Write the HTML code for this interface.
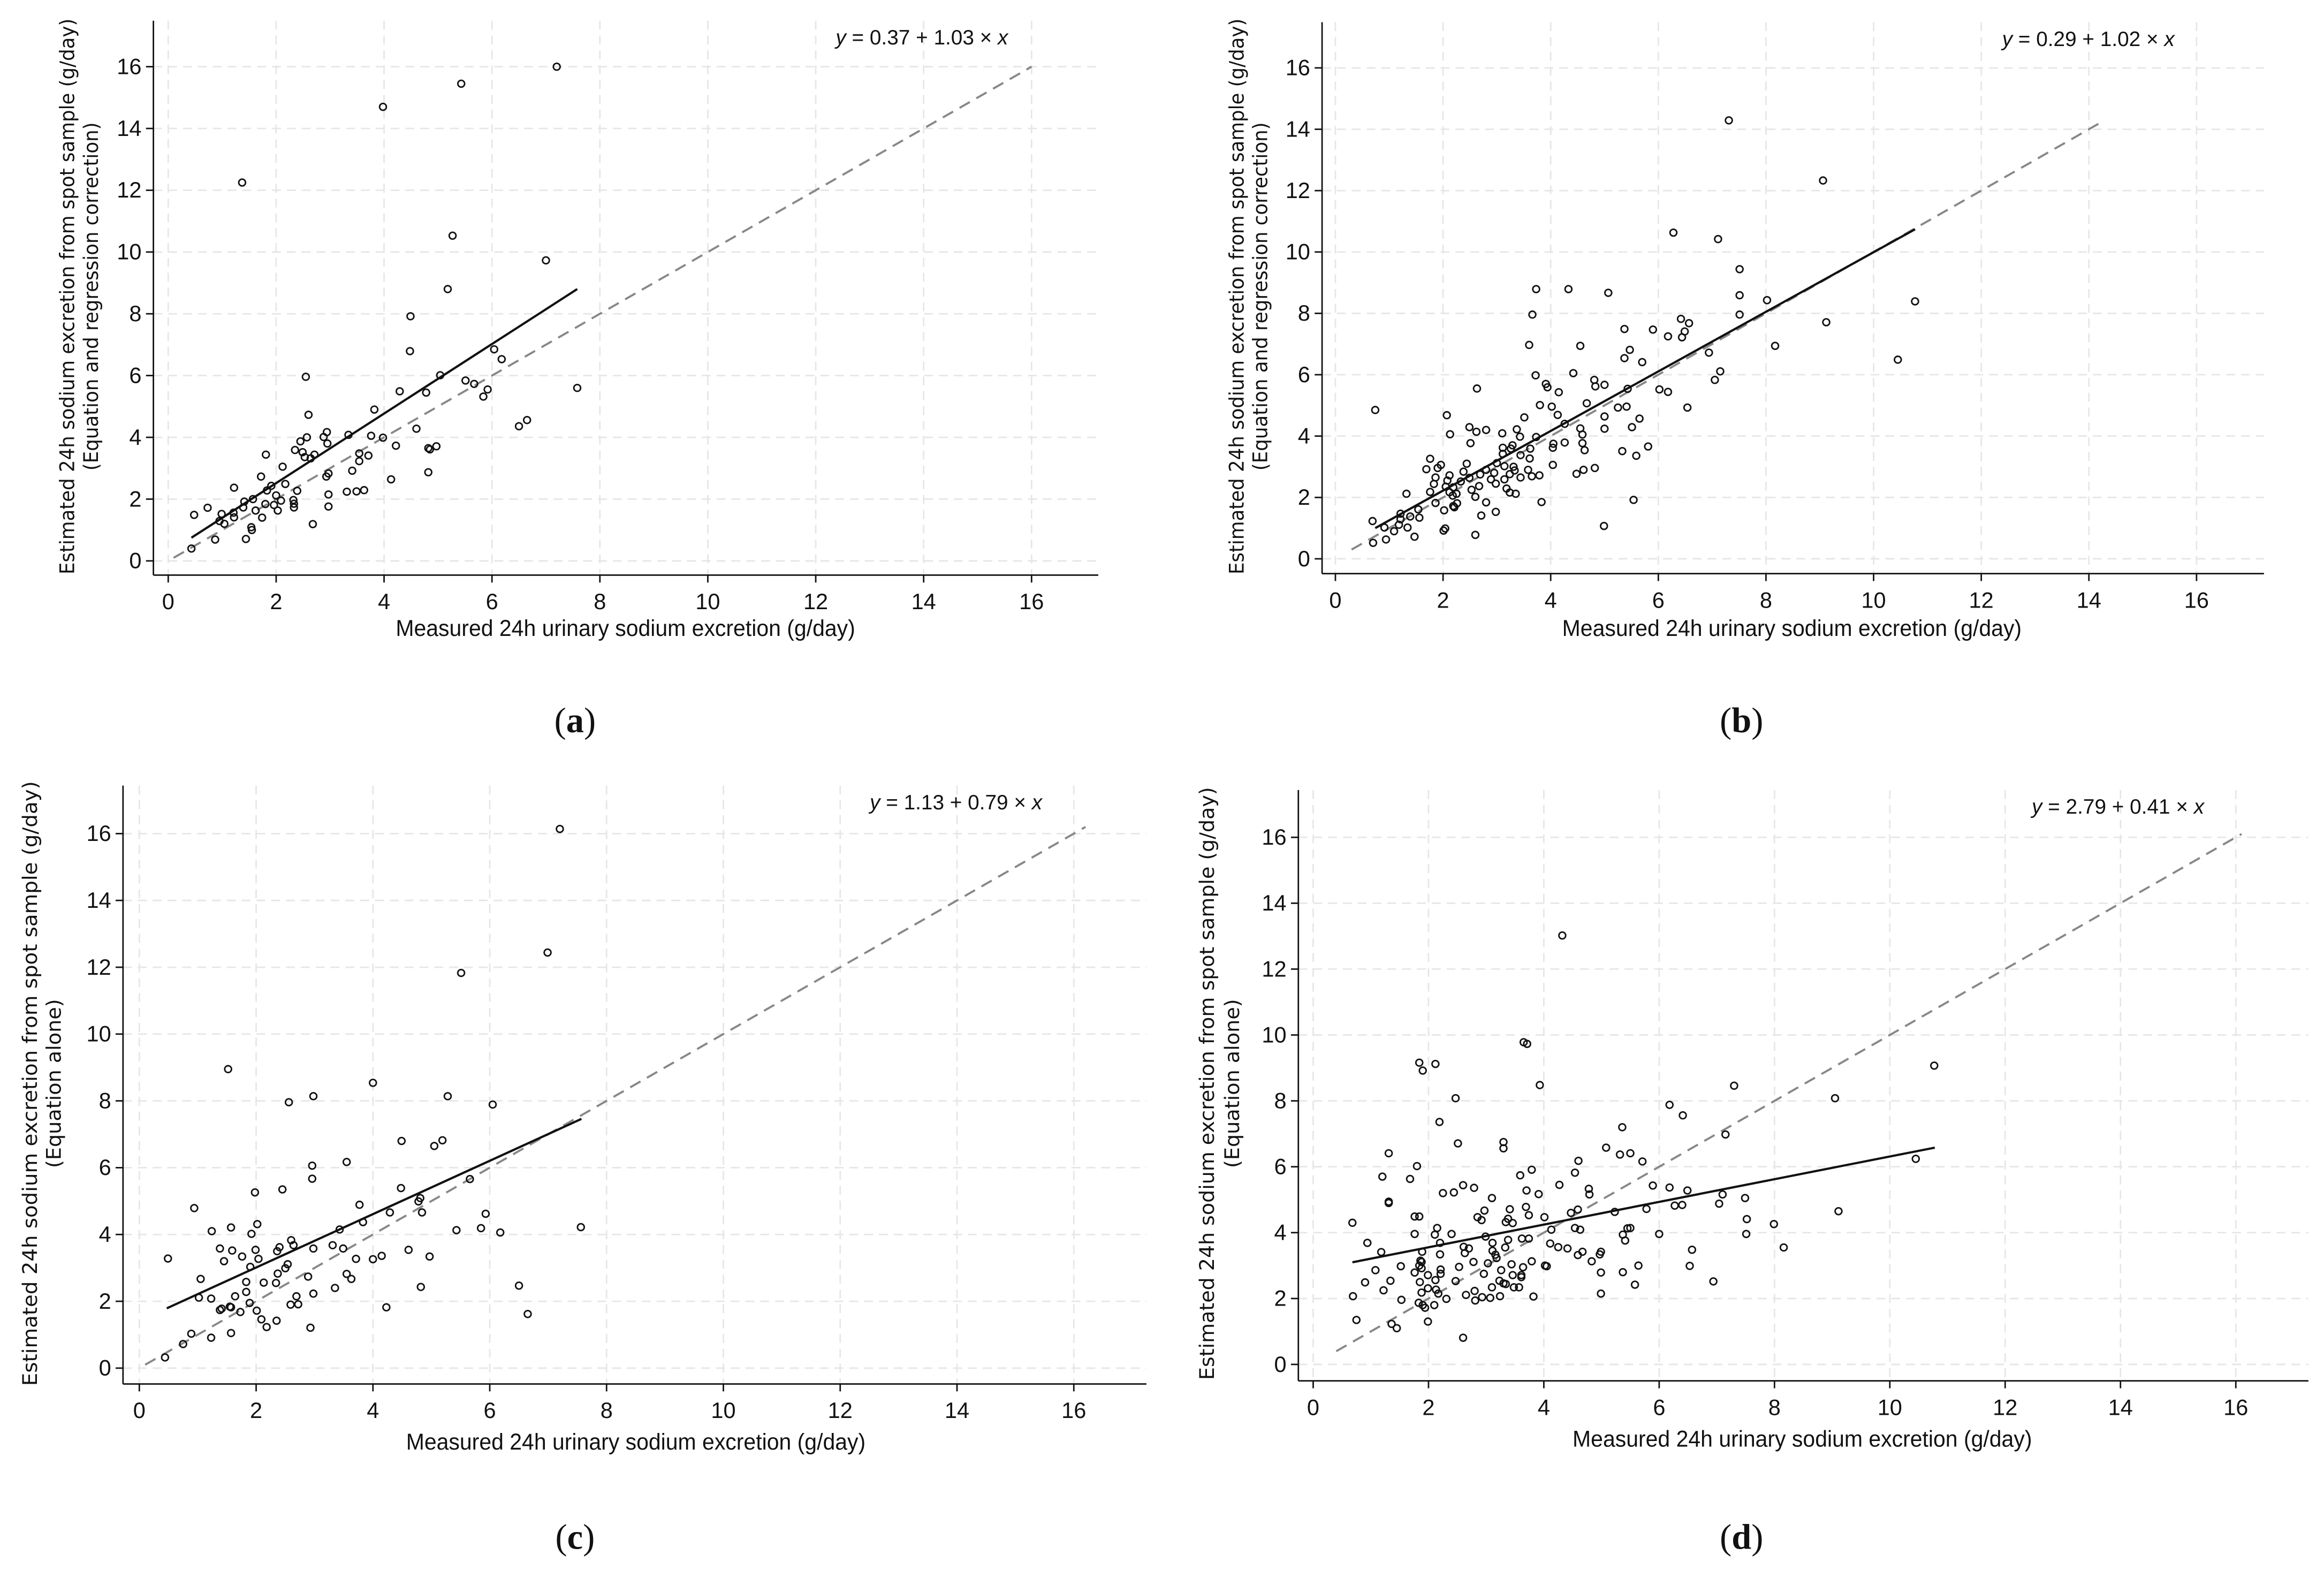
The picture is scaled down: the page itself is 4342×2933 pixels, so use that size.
<!DOCTYPE html>
<html><head><meta charset="utf-8"><style>
html,body{margin:0;padding:0;background:#fff;}
svg{display:block;}
text{font-family:"Liberation Sans Narrow","Liberation Sans",sans-serif;fill:#111;}
.yt{font-family:"DejaVu Sans","Liberation Sans",sans-serif;}
.lab{font-family:"Liberation Serif",serif;}
</style></head><body>
<svg id="chart" width="4342" height="2933" viewBox="0 0 1568 1059.2" preserveAspectRatio="none" xmlns="http://www.w3.org/2000/svg"></svg>
<script>
// ---- data ----
const aX=[7.2,5.43,3.98,1.37,5.27,7.0,5.18,4.49,4.48,6.04,6.18,2.55,5.04,5.51,5.67,7.58,4.29,5.92,4.78,5.84,2.6,3.82,6.65,6.5,4.6,2.94,3.34,2.57,2.88,3.76,3.98,2.45,2.95,4.22,4.82,4.97,4.85,2.35,2.49,1.81,2.71,2.53,2.64,3.54,3.71,3.54,2.12,3.41,2.97,2.93,1.72,4.82,4.13,1.22,2.17,1.91,1.83,2.39,3.31,3.49,3.63,2.97,2.0,1.41,1.57,2.09,2.32,1.8,2.33,1.96,1.39,0.73,2.33,2.97,1.62,2.03,1.21,0.99,0.48,1.22,1.74,0.95,1.04,2.68,1.54,1.55,0.87,1.44,0.43];
const aY=[16.0,15.45,14.7,12.25,10.53,9.73,8.8,7.92,6.79,6.85,6.53,5.96,6.01,5.84,5.73,5.6,5.49,5.55,5.45,5.32,4.73,4.9,4.56,4.36,4.28,4.17,4.08,4.0,4.01,4.05,3.99,3.87,3.8,3.73,3.65,3.71,3.61,3.59,3.52,3.44,3.44,3.36,3.32,3.48,3.41,3.23,3.05,2.92,2.83,2.73,2.73,2.87,2.64,2.37,2.49,2.43,2.28,2.27,2.24,2.25,2.29,2.15,2.12,1.92,2.0,1.95,1.97,1.84,1.85,1.81,1.73,1.72,1.73,1.76,1.63,1.63,1.56,1.52,1.49,1.41,1.4,1.29,1.2,1.19,1.09,1.0,0.69,0.71,0.4];
const bX=[7.31,9.06,6.28,7.11,7.51,3.73,4.33,5.07,7.51,8.02,10.77,3.66,7.51,6.42,6.57,9.12,5.37,5.9,6.49,6.18,6.44,3.6,4.55,8.17,5.47,6.94,5.37,10.45,5.7,7.15,4.42,3.72,7.05,4.81,3.91,3.94,4.83,5.0,2.63,5.43,6.02,4.15,6.18,4.67,3.8,4.02,5.25,5.41,6.54,0.74,4.13,2.07,5.0,3.51,5.65,4.26,5.51,2.49,2.8,2.62,3.37,4.55,5.0,3.1,2.13,4.59,3.43,3.73,4.26,4.59,2.51,4.05,4.04,3.29,3.11,3.26,5.81,3.62,4.63,5.33,3.44,3.11,5.59,1.76,3.61,3.0,2.44,1.96,4.04,3.14,3.31,1.9,4.82,1.69,4.61,3.58,2.8,3.33,2.38,2.95,4.48,3.24,2.69,2.12,3.79,1.86,3.44,3.65,2.49,2.89,3.14,2.08,2.33,2.98,1.83,2.67,2.05,2.19,3.18,2.53,1.76,2.12,1.32,3.24,3.35,2.25,2.18,2.6,5.54,3.83,2.8,1.86,2.26,2.19,2.21,1.54,2.02,2.98,1.21,1.39,2.71,1.56,0.69,1.21,1.18,4.99,0.91,1.34,2.04,2.01,1.09,1.47,2.6,0.94,0.7];
const bY=[14.29,12.33,10.63,10.42,9.44,8.79,8.79,8.67,8.59,8.43,8.39,7.96,7.96,7.82,7.68,7.71,7.49,7.47,7.41,7.25,7.22,6.97,6.94,6.94,6.81,6.72,6.54,6.49,6.41,6.11,6.05,5.98,5.83,5.83,5.7,5.59,5.62,5.67,5.55,5.54,5.52,5.43,5.44,5.07,5.01,4.96,4.93,4.96,4.93,4.85,4.69,4.68,4.64,4.61,4.57,4.4,4.29,4.29,4.2,4.14,4.22,4.25,4.24,4.09,4.06,4.05,3.98,3.97,3.79,3.77,3.77,3.75,3.62,3.7,3.62,3.59,3.66,3.59,3.54,3.51,3.38,3.42,3.36,3.26,3.27,3.12,3.1,3.06,3.06,3.02,3.0,2.96,2.96,2.92,2.9,2.9,2.9,2.88,2.84,2.8,2.77,2.76,2.75,2.72,2.72,2.65,2.65,2.69,2.64,2.59,2.59,2.55,2.52,2.45,2.44,2.37,2.35,2.33,2.29,2.25,2.18,2.17,2.12,2.16,2.12,2.12,2.06,2.02,1.92,1.85,1.84,1.82,1.81,1.72,1.68,1.61,1.58,1.53,1.47,1.38,1.41,1.34,1.23,1.29,1.11,1.07,1.02,1.02,0.99,0.92,0.9,0.72,0.78,0.63,0.52];
const cX=[7.2,6.99,5.51,1.52,4.0,2.98,5.28,2.56,6.05,4.49,5.19,5.05,3.55,2.96,2.96,5.66,2.45,4.48,1.98,4.81,4.78,3.77,0.94,4.29,4.84,5.93,3.83,2.02,7.56,1.57,5.85,3.43,5.43,1.24,6.18,1.92,2.6,2.64,3.31,2.4,3.49,2.98,1.38,1.99,1.59,4.61,2.36,1.76,4.97,4.15,0.49,2.04,3.71,4.0,1.45,2.54,1.9,2.5,2.37,3.55,2.89,3.63,1.05,2.13,1.83,2.34,6.5,4.82,3.35,1.83,2.98,1.64,2.69,1.02,1.23,1.89,2.72,2.59,1.55,1.57,1.41,1.38,2.01,1.73,4.23,6.65,2.09,2.35,2.18,2.93,1.57,0.89,1.23,0.75,0.44];
const cY=[16.14,12.44,11.83,8.95,8.54,8.14,8.14,7.96,7.89,6.8,6.82,6.65,6.17,6.06,5.67,5.66,5.35,5.39,5.26,5.09,4.99,4.89,4.79,4.66,4.66,4.62,4.37,4.31,4.22,4.21,4.19,4.15,4.13,4.1,4.06,4.02,3.83,3.68,3.68,3.62,3.58,3.58,3.58,3.54,3.52,3.54,3.5,3.34,3.34,3.36,3.28,3.27,3.27,3.26,3.2,3.11,3.03,2.99,2.83,2.82,2.74,2.67,2.67,2.56,2.58,2.55,2.47,2.43,2.4,2.28,2.23,2.15,2.15,2.11,2.08,1.95,1.91,1.9,1.84,1.82,1.78,1.74,1.72,1.68,1.82,1.62,1.46,1.42,1.23,1.21,1.05,1.03,0.91,0.72,0.32];
const dX=[4.32,3.65,3.71,1.84,1.9,2.12,10.77,3.93,7.3,2.47,9.05,6.18,6.41,2.19,5.36,7.15,3.3,2.51,3.3,5.08,1.31,5.32,5.5,10.45,4.6,5.71,1.8,3.79,4.54,1.2,3.59,1.68,4.27,2.6,5.89,6.18,2.79,4.78,3.7,6.49,2.25,2.44,3.91,4.79,7.1,3.1,7.49,1.31,1.31,7.04,3.69,6.27,6.4,5.78,2.97,3.41,9.11,4.59,4.47,5.23,3.74,1.76,1.84,2.85,4.01,2.92,3.38,7.52,3.34,3.46,0.68,7.99,2.15,4.54,5.5,5.45,4.63,4.13,1.76,2.4,2.11,6.0,7.51,5.37,2.99,3.62,3.74,3.38,5.41,2.2,3.11,0.94,4.11,4.25,8.16,4.41,2.61,3.33,2.7,6.57,3.11,1.89,4.67,1.18,2.63,4.99,2.2,4.97,3.16,4.59,3.18,1.86,4.83,3.79,2.78,1.88,3.03,3.44,1.84,1.52,4.02,4.05,5.64,6.53,2.53,3.64,1.88,2.21,3.26,1.08,1.76,2.96,2.21,5.37,4.99,1.99,3.46,3.61,3.61,1.34,2.12,3.23,2.47,1.85,0.9,6.94,3.3,3.34,5.58,3.57,3.48,3.1,1.99,1.22,2.13,2.8,1.88,4.99,2.17,2.65,0.69,3.24,2.93,3.82,3.07,2.31,2.81,1.53,1.83,1.9,2.1,1.94,1.99,0.75,1.36,1.45,2.6];
const dY=[13.02,9.78,9.73,9.16,8.92,9.12,9.07,8.48,8.46,8.08,8.08,7.88,7.56,7.36,7.2,6.98,6.75,6.71,6.56,6.58,6.41,6.37,6.41,6.24,6.18,6.16,6.02,5.91,5.82,5.7,5.74,5.63,5.45,5.44,5.43,5.37,5.36,5.33,5.28,5.28,5.2,5.22,5.17,5.16,5.16,5.05,5.05,4.94,4.9,4.88,4.78,4.82,4.84,4.72,4.67,4.71,4.65,4.7,4.6,4.63,4.53,4.49,4.49,4.47,4.47,4.38,4.42,4.41,4.32,4.29,4.3,4.26,4.14,4.14,4.14,4.13,4.09,4.09,3.96,3.96,3.94,3.96,3.96,3.94,3.88,3.82,3.82,3.78,3.76,3.69,3.69,3.69,3.67,3.56,3.55,3.52,3.57,3.55,3.52,3.48,3.45,3.42,3.42,3.41,3.38,3.42,3.34,3.34,3.33,3.32,3.23,3.15,3.13,3.13,3.11,3.11,3.07,3.04,3.0,2.98,3.0,2.98,3.0,2.99,2.96,2.95,2.92,2.88,2.86,2.86,2.79,2.75,2.75,2.8,2.79,2.71,2.71,2.71,2.65,2.54,2.56,2.54,2.53,2.5,2.49,2.52,2.46,2.44,2.42,2.34,2.34,2.34,2.31,2.25,2.27,2.23,2.18,2.15,2.15,2.11,2.07,2.07,2.04,2.06,2.02,1.99,1.94,1.96,1.87,1.8,1.8,1.72,1.3,1.35,1.23,1.1,0.81];
const fitFrom=[0.43,0.74,0.47,0.68];
const fitFromY=[0.75,1.0,1.79,3.1];
const fitTo=[7.58,10.77,7.57,10.78];
const fitToY=[8.8,10.74,7.46,6.58];
const diagFrom=[0.1,0.3,0.1,0.4];
const diagTo=[16,14.25,16.2,16.1];
const ticks=[0,2,4,6,8,10,12,14,16];
const panelLabels=["a","b","c","d"];
const equations=["y = 0.37 + 1.03 × x","y = 0.29 + 1.02 × x","y = 1.13 + 0.79 × x","y = 2.79 + 0.41 × x"];
const yTitle2=["(Equation and regression correction)","(Equation and regression correction)","(Equation alone)","(Equation alone)"];

// ---- layout (display units) ----
const L=[
 {x0:113.5,x16:696,y0:378.4,y16:45,left:103.5,right:741,top:14,bottom:388,eqX:622,eqY:25,xtX:422,xtY:424,yt1:45,yt2:61,ytY:200,ytLen:375,yt2Len:235,lab:[388,486]},
 {x0:901,x16:1482,y0:377,y16:45.8,left:892,right:1527.5,top:15,bottom:387,eqX:1409,eqY:26,xtX:1209,xtY:424,yt1:834,yt2:850,ytY:200,ytLen:375,yt2Len:235,lab:[1175,486]},
 {x0:94,x16:724.5,y0:923,y16:562.4,left:83,right:773.5,top:530,bottom:933.7,eqX:645,eqY:541,xtX:429,xtY:973,yt1:20,yt2:36,ytY:731,ytLen:408,yt2Len:114,lab:[388,1037]},
 {x0:886,x16:1508.5,y0:920.5,y16:564.9,left:876,right:1557.5,top:533,bottom:931.6,eqX:1429,eqY:544,xtX:1216,xtY:971,yt1:814,yt2:831,ytY:731,ytLen:400,yt2Len:114,lab:[1175,1037]}
];
const XS=[aX,bX,cX,dX], YS=[aY,bY,cY,dY];
const svg=document.getElementById('chart');
const NS='http://www.w3.org/2000/svg';
function mk(tag,attrs,parent){const e=document.createElementNS(NS,tag);for(const k in attrs)e.setAttribute(k,attrs[k]);(parent||svg).appendChild(e);return e;}

L.forEach((p,i)=>{
  const sx=v=>p.x0+(p.x16-p.x0)*v/16;
  const sy=v=>p.y0+(p.y16-p.y0)*v/16;
  const g=mk('g',{});
  
  
  ticks.forEach(t=>{
    const gv=mk('line',{x1:sx(t),x2:sx(t),y1:p.top,y2:p.bottom,stroke:'#e6e6e6','stroke-width':1,'stroke-dasharray':'6 4'},g);
    
    
    const gh=mk('line',{x1:p.left,x2:p.right,y1:sy(t),y2:sy(t),stroke:'#e6e6e6','stroke-width':1,'stroke-dasharray':'6 4'},g);
    
    
  });
  const ax=mk('line',{x1:p.left,x2:p.right,y1:p.bottom,y2:p.bottom,stroke:'#111','stroke-width':1},g);
  
  
  const ay=mk('line',{x1:p.left,x2:p.left,y1:p.top,y2:p.bottom,stroke:'#111','stroke-width':1},g);
  
  
  ticks.forEach(t=>{
    mk('line',{x1:sx(t),x2:sx(t),y1:p.bottom,y2:p.bottom+5,stroke:'#111','stroke-width':1},g);
    mk('line',{x1:p.left-5,x2:p.left,y1:sy(t),y2:sy(t),stroke:'#111','stroke-width':1},g);
    const tx=mk('text',{x:sx(t),y:p.bottom+23,'font-size':15,'text-anchor':'middle'},g);
    tx.textContent=t;
    
    
    const ty=mk('text',{x:p.left-8,y:sy(t)+5,'font-size':15,'text-anchor':'end'},g);
    ty.textContent=t;
    
    
  });
  const dg=mk('line',{x1:sx(diagFrom[i]),y1:sy(diagFrom[i]),x2:sx(diagTo[i]),y2:sy(diagTo[i]),stroke:'#888','stroke-width':1.4,'stroke-dasharray':'8 5'},g);
  
  
  XS[i].forEach((x,k)=>{
    const c=mk('circle',{cx:sx(x),cy:sy(YS[i][k]),r:2.3,fill:'none',stroke:'#111','stroke-width':1},g);
    
    
  });
  const f=mk('line',{x1:sx(fitFrom[i]),y1:sy(fitFromY[i]),x2:sx(fitTo[i]),y2:sy(fitToY[i]),stroke:'#111','stroke-width':1.5},g);
  
  
  const eq=mk('text',{x:p.eqX,y:p.eqY+5,'font-size':14,'text-anchor':'middle'},g);
  eq.innerHTML='<tspan font-style="italic">y</tspan> = '+equations[i].slice(4,-1)+'<tspan font-style="italic">x</tspan>';
  
  
  const xt=mk('text',{x:p.xtX,y:p.xtY+5,'font-size':15.5,'text-anchor':'middle',textLength:310,lengthAdjust:'spacingAndGlyphs'},g);
  xt.textContent='Measured 24h urinary sodium excretion (g/day)';
  
  
  const y1=mk('text',{class:'yt',x:0,y:0,'font-size':13.5,'text-anchor':'middle',transform:`translate(${p.yt1+5},${p.ytY}) rotate(-90)`,textLength:p.ytLen,lengthAdjust:'spacingAndGlyphs'},g);
  y1.textContent='Estimated 24h sodium excretion from spot sample (g/day)';
  
  
  const y2=mk('text',{class:'yt',x:0,y:0,'font-size':13.5,'text-anchor':'middle',transform:`translate(${p.yt2+5},${p.ytY}) rotate(-90)`,textLength:p.yt2Len,lengthAdjust:'spacingAndGlyphs'},g);
  y2.textContent=yTitle2[i];
  
  
  const lb=mk('text',{class:'lab',x:p.lab[0],y:p.lab[1]+8,'font-size':24,'text-anchor':'middle'},g);
  lb.innerHTML='(<tspan font-weight="bold">'+panelLabels[i]+'</tspan>)';
  
  
});
</script>
</body></html>
